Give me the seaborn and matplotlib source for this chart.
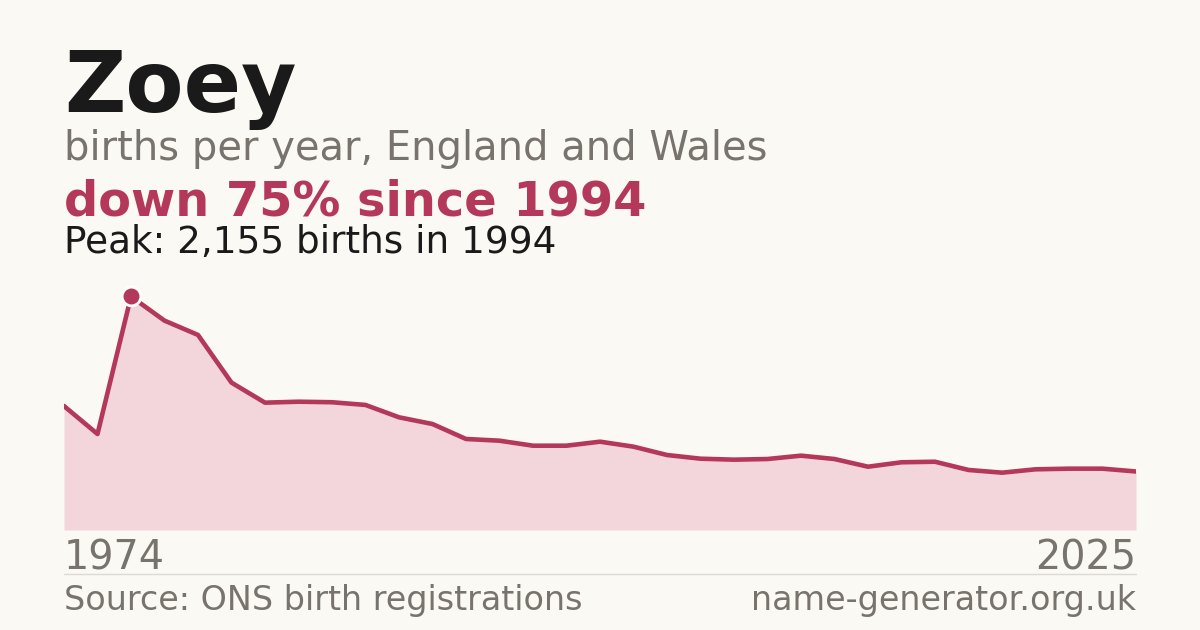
import matplotlib
matplotlib.use("Agg")
import matplotlib.pyplot as plt
from matplotlib.lines import Line2D
import seaborn as sns
import pandas as pd

# Data
years = [1974, 1984, 1994, 1995, 1996, 1997, 1998, 1999, 2000, 2001, 2002,
         2003, 2004, 2005, 2006, 2007, 2008, 2009, 2010, 2011, 2012, 2013,
         2014, 2015, 2016, 2017, 2018, 2019, 2020, 2021, 2022, 2023, 2025]
births = [1144, 886, 2155, 1932, 1800, 1360, 1175, 1184, 1179, 1154, 1040,
          978, 840, 824, 778, 778, 815, 769, 692, 658, 649, 655,
          686, 655, 584, 625, 630, 554, 529, 560, 566, 566, 540]

peak_year = 1994
peak_births = 2155

bg = "#faf9f4"
red = "#b3385a"
fill = "#f2d6dc"
grey = "#78736c"
dark = "#1a1a1a"

df = pd.DataFrame({"year": years, "births": births})
df["pos"] = range(len(df))

sns.set_theme(style="white")
plt.rcParams["font.family"] = ["DejaVu Sans"]

fig = plt.figure(figsize=(12, 6.3), dpi=100, facecolor=bg)
ax = fig.add_axes([64 / 1200, 1 - 530 / 630, 1072 / 1200, 250 / 630])
ax.set_facecolor(bg)

ax.fill_between(df["pos"], df["births"], 0, color=fill, linewidth=0, zorder=1)
sns.lineplot(data=df, x="pos", y="births", ax=ax, color=red, linewidth=3.3,
             zorder=3)
ax.axhline(0, color="#e2ddd7", linewidth=0.8, zorder=2)

pk = df[df["year"] == peak_year]
ax.plot(pk["pos"], pk["births"], "o", color=red, markersize=13.5,
        markeredgecolor="white", markeredgewidth=2, zorder=4, clip_on=False)

ax.set_xlim(0, len(df) - 1)
ax.set_ylim(0, 2307)
ax.set_xticks([])
ax.set_yticks([])
ax.set_xlabel("")
ax.set_ylabel("")
for s in ax.spines.values():
    s.set_visible(False)

# Titles
fig.text(64 / 1200, 1 - 112 / 630, "Zoey", fontsize=61, fontweight="bold",
         color=dark, va="baseline", ha="left")
fig.text(64 / 1200, 1 - 160 / 630, "births per year, England and Wales",
         fontsize=28.8, color=grey, va="baseline", ha="left")
fig.text(64 / 1200, 1 - 215 / 630, "down 75% since 1994", fontsize=34.5,
         fontweight="bold", color=red, va="baseline", ha="left")
fig.text(64 / 1200, 1 - 253 / 630, f"Peak: {peak_births:,} births in {peak_year}",
         fontsize=26.9, color=dark, va="baseline", ha="left")

# Axis end labels
fig.text(64 / 1200, 1 - 570 / 630, str(years[0]), fontsize=28.6, color=grey,
         va="baseline", ha="left")
fig.text(1136 / 1200, 1 - 570 / 630, "2025", fontsize=28.6, color=grey,
         va="baseline", ha="right")

fig.add_artist(Line2D([64 / 1200, 1136 / 1200], [1 - 574 / 630, 1 - 574 / 630],
                      color="#dedad3", linewidth=1))

fig.text(64 / 1200, 1 - 610 / 630, "Source: ONS birth registrations",
         fontsize=24, color=grey, va="baseline", ha="left")
fig.text(1136 / 1200, 1 - 610 / 630, "name-generator.org.uk", fontsize=24,
         color=grey, va="baseline", ha="right")

fig.savefig("out.png", dpi=100, facecolor=bg)
